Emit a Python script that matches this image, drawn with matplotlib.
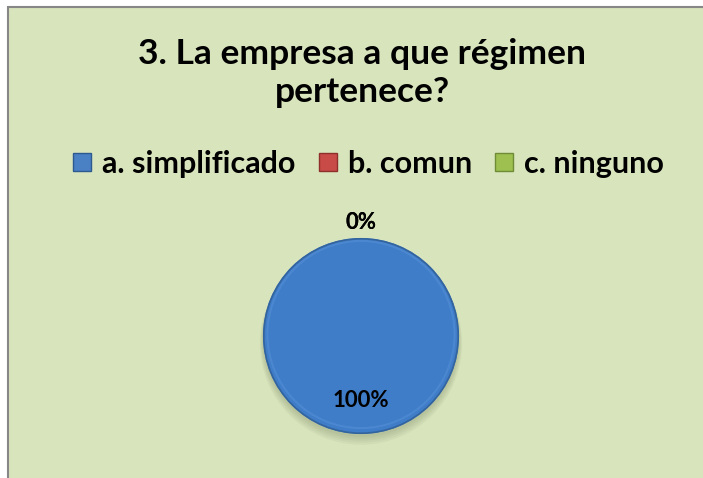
import matplotlib
matplotlib.use("Agg")
import matplotlib.pyplot as plt
from matplotlib.patches import Rectangle, Circle
from matplotlib.lines import Line2D
import numpy as np

title = "3. La empresa a que régimen\npertenece?"
categories = ["a. simplificado", "b. comun", "c. ninguno"]
values = [100, 0, 0]
pct_labels = ["100%", "0%", "0%"]
colors = ["#3F7DC8", "#C0504D", "#9BBB59"]
legend_colors = ["#4A80C4", "#C84B48", "#9DC050"]
legend_edges = ["#2C5A90", "#8E2F2D", "#6E8C35"]

W, H = 703, 478
fig = plt.figure(figsize=(W / 100, H / 100), dpi=100)
fig.patch.set_facecolor("white")

FONT = "Lato"

# chart area background with border on top/left
bg = Rectangle((8 / W, -0.1), 1.2, 1.1 - 7 / H, transform=fig.transFigure,
               facecolor="#D8E4BC", edgecolor="#878787", linewidth=1.5, zorder=-10)
fig.patches.append(bg)

for line, base in zip(title.split("\n"), [64, 102]):
    fig.text(362 / W, 1 - base / H, line, ha="center", va="baseline", fontsize=25.5,
             fontweight="bold", family=FONT)

handles = [Line2D([], [], marker="s", linestyle="none", markersize=13,
                  markerfacecolor=c, markeredgecolor=e, markeredgewidth=1.0)
           for c, e in zip(legend_colors, legend_edges)]
fig.legend(handles, categories, loc="center", bbox_to_anchor=(367 / W, 1 - 164 / H),
           ncol=3, frameon=False, prop={"family": FONT, "weight": "bold", "size": 22},
           handletextpad=0.25, columnspacing=0.65, handlelength=0.8)

cx, cy, r = 361, 336, 98
ax = fig.add_axes([(cx - r) / W, (H - cy - r) / H, 2 * r / W, 2 * r / H])

wedges, _ = ax.pie(values, colors=colors, startangle=90, counterclock=False,
                   radius=1.0, wedgeprops=dict(linewidth=0))
ax.set_xlim(-1, 1)
ax.set_ylim(-1, 1)
ax.axis("off")

# soft shadow
for i in range(5):
    ax.add_patch(Circle((0.0, -0.03 - 0.012 * i), 1.0 + 0.008 * i, facecolor="#5f6a45",
                        alpha=0.06, edgecolor="none", zorder=0, clip_on=False))

for w in wedges:
    w.set_zorder(2)
    w.set_clip_on(False)

# bevel rim
ax.add_patch(Circle((0, 0), 0.992, facecolor="none", edgecolor="#33649E",
                    linewidth=1.2, zorder=2.5, clip_on=False))
ax.add_patch(Circle((0, 0.015), 0.955, facecolor="none", edgecolor="#5A95DA",
                    linewidth=1.5, alpha=0.45, zorder=2.4, clip_on=False))

for w, v, lab in zip(wedges, values, pct_labels):
    mid = np.deg2rad((w.theta1 + w.theta2) / 2)
    rr = 0.66 if v > 0 else 1.16
    ax.text(rr * np.cos(mid), rr * np.sin(mid), lab, ha="center", va="center",
            fontsize=16, fontweight="bold", family=FONT, zorder=3, clip_on=False)

fig.savefig("out.png", dpi=100, facecolor=fig.get_facecolor())
